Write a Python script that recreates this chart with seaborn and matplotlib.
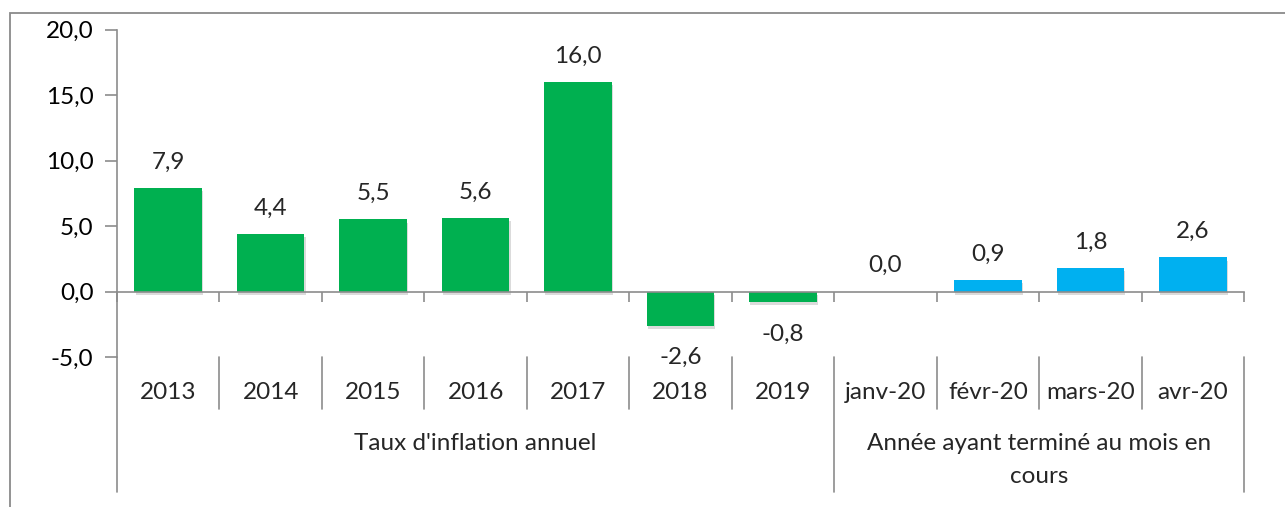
import matplotlib
matplotlib.use("Agg")
import matplotlib.pyplot as plt
import matplotlib.transforms as mtransforms
import matplotlib.patheffects as pe
from matplotlib.patches import Rectangle
import seaborn as sns
import pandas as pd

categories = ["2013", "2014", "2015", "2016", "2017", "2018", "2019",
              "janv-20", "févr-20", "mars-20", "avr-20"]
values = [7.9, 4.4, 5.5, 5.6, 16.0, -2.6, -0.8, 0.0, 0.9, 1.8, 2.6]
groups = ["annuel"] * 7 + ["mois"] * 4
group_labels = ["Taux d'inflation annuel", "Année ayant terminé au mois en\ncours"]
group_ranges = [(0, 6), (7, 10)]
yticks = [-5, 0, 5, 10, 15, 20]
palette = {"annuel": "#00B050", "mois": "#00B0F0"}

sns.set_theme(style="white")
plt.rcParams['font.family'] = ['Lato', 'DejaVu Sans']

W, H = 1285, 507
fig = plt.figure(figsize=(W / 100, H / 100), dpi=100)
fig.patch.set_facecolor("white")
ax = fig.add_axes([117 / W, (H - 357) / H, (1244 - 117) / W, (357 - 29.6) / H])

df = pd.DataFrame({"cat": categories, "val": values, "grp": groups})
sns.barplot(data=df, x="cat", y="val", hue="grp", palette=palette, dodge=False,
            width=0.66, legend=False, ax=ax, order=categories,
            saturation=1, linewidth=0)

for p in ax.patches:
    p.set_linewidth(0)
    p.set_path_effects([pe.SimplePatchShadow(offset=(0.8, -2.2), alpha=0.14, shadow_rgbFace="black"),
                        pe.Normal()])

gray = "#8C8C8C"
fs = 17.5

ax.set_xlim(-0.5, 10.5)
ax.set_ylim(-5, 20)
ax.set_yticks(yticks)
ax.set_yticklabels([f"{v:.1f}".replace(".", ",") for v in yticks], fontsize=fs, color="black")
ax.tick_params(axis="y", direction="out", length=9, width=1.2, color=gray, pad=8, left=True)

for s in ["top", "right"]:
    ax.spines[s].set_visible(False)
ax.spines["left"].set_color(gray)
ax.spines["left"].set_linewidth(1.2)
ax.spines["bottom"].set_position(("data", 0))
ax.spines["bottom"].set_color(gray)
ax.spines["bottom"].set_linewidth(1.2)
ax.set_xticks([i + 0.5 for i in range(-1, 11)])
ax.set_xticklabels([])
ax.tick_params(axis="x", direction="out", length=7, width=1.2, color=gray, bottom=True)
ax.set_xlabel("")
ax.set_ylabel("")

# data labels
for i, v in enumerate(values):
    lab = f"{v:.1f}".replace(".", ",")
    if v >= 0:
        ax.annotate(lab, (i, v), xytext=(0, 11), textcoords="offset points",
                    ha="center", va="bottom", fontsize=fs)
    else:
        ax.annotate(lab, (i, v), xytext=(0, -15.5), textcoords="offset points",
                    ha="center", va="top", fontsize=fs)

trans = mtransforms.blended_transform_factory(ax.transData, ax.transAxes)
y_cat_bot = -0.1588
y_grp_bot = -0.4123

# left spine extension
ax.plot([-0.5, -0.5], [0, y_grp_bot], transform=trans, color=gray, lw=1.2, clip_on=False)

# category separators and labels
group_bounds = [-0.5] + [b[1] + 0.5 for b in group_ranges]
for i in range(11):
    xb = i + 0.5
    if xb in group_bounds:
        ax.plot([xb, xb], [0, y_grp_bot], transform=trans, color=gray, lw=1.2, clip_on=False)
    else:
        ax.plot([xb, xb], [0, y_cat_bot], transform=trans, color=gray, lw=1.2, clip_on=False)
for i, c in enumerate(categories):
    ax.text(i, -0.107, c, transform=trans, ha="center", va="center", fontsize=fs)

for (a, b), lab in zip(group_ranges, group_labels):
    yc = -0.263 if "\n" not in lab else -0.3146
    ax.text((a + b) / 2, yc, lab, transform=trans, ha="center", va="center",
            fontsize=fs, linespacing=1.72)

# outer chart border
fig.add_artist(Rectangle((10 / W, -0.1), 1.2, (H - 13) / H + 0.1, transform=fig.transFigure,
                         fill=False, edgecolor="#8A8A8A", lw=1.3))

fig.savefig("out.png", dpi=100, facecolor="white")
